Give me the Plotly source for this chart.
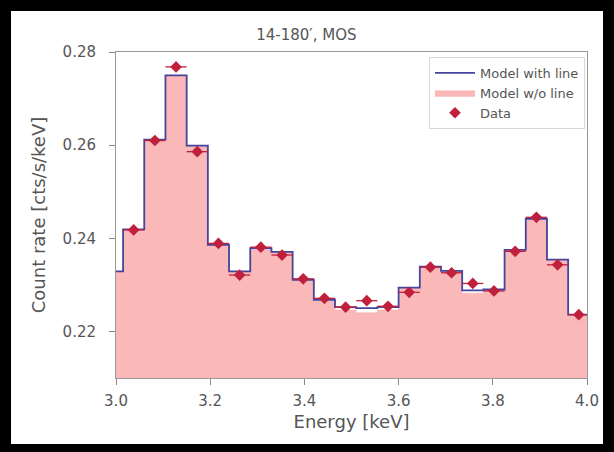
import plotly.graph_objects as go

# ---- data ----
bin_edges = [2.97, 3.015, 3.06, 3.105, 3.15, 3.195, 3.24, 3.285, 3.33, 3.375, 3.42, 3.465,
             3.51, 3.555, 3.60, 3.645, 3.69, 3.735, 3.78, 3.825, 3.87, 3.915, 3.96, 4.005]
model_with_line = [0.2329, 0.2419, 0.2612, 0.2750, 0.2599, 0.2386, 0.2329, 0.2379, 0.2371,
                   0.2311, 0.2268, 0.2252, 0.2250, 0.2252, 0.2294, 0.2339, 0.2330, 0.2288,
                   0.2290, 0.2375, 0.2442, 0.2354, 0.2236]
model_wo_line = [0.2329, 0.2419, 0.2612, 0.2750, 0.2599, 0.2386, 0.2329, 0.2379, 0.2371,
                 0.2311, 0.2266, 0.2246, 0.2240, 0.2246, 0.2294, 0.2339, 0.2330, 0.2282,
                 0.2290, 0.2375, 0.2442, 0.2354, 0.2236]
data_energy = [3.0375, 3.0825, 3.1275, 3.1725, 3.2175, 3.2625, 3.3075, 3.3525, 3.3975,
               3.4425, 3.4875, 3.5325, 3.5775, 3.6225, 3.6675, 3.7125, 3.7575, 3.8025,
               3.8475, 3.8925, 3.9375, 3.9825]
data_rate = [0.2418, 0.2610, 0.2768, 0.2586, 0.2389, 0.2321, 0.2381, 0.2364, 0.2313,
             0.2271, 0.2252, 0.2266, 0.2254, 0.2284, 0.2338, 0.2326, 0.2303, 0.2287,
             0.2372, 0.2445, 0.2343, 0.2236]
data_xerr = [0.0225] * len(data_energy)
data_yerr = [0.0005] * len(data_energy)
x_ticks = [3.0, 3.2, 3.4, 3.6, 3.8, 4.0]
x_tick_text = ["3.0", "3.2", "3.4", "3.6", "3.8", "4.0"]
y_ticks = [0.22, 0.24, 0.26, 0.28]
y_tick_text = ["0.22", "0.24", "0.26", "0.28"]

# step arrays (hv shape): last edge repeats last value
step_with = model_with_line + [model_with_line[-1]]
step_wo = model_wo_line + [model_wo_line[-1]]

FONT = "DejaVu Sans"
TXT = "#555555"
RED = "#c0203c"

fig = go.Figure()
fig.add_trace(go.Scatter(
    x=bin_edges, y=step_wo, mode="lines", line_shape="hv",
    line=dict(color="rgba(250,170,170,1)", width=0.5),
    fill="tozeroy", fillcolor="rgba(250,184,184,1)", name="Model w/o line",
    legendrank=2))
fig.add_trace(go.Scatter(
    x=bin_edges, y=step_with, mode="lines", line_shape="hv",
    line=dict(color="#45459e", width=1.8), name="Model with line", legendrank=1))
fig.add_trace(go.Scatter(
    x=data_energy, y=data_rate, mode="markers", name="Data", legendrank=3,
    marker=dict(symbol="diamond", size=9, color=RED),
    error_x=dict(type="data", array=data_xerr, color=RED, thickness=1.3, width=0),
    error_y=dict(type="data", array=data_yerr, color=RED, thickness=1.3, width=0)))

W, H = 614, 452
ml, mr, mt, mb = 116, 27, 52, 74
pw, ph = W - ml - mr, H - mt - mb

def px_x(p):
    return (p - ml) / pw

def px_y(p):
    return (H - mb - p) / ph

fig.update_layout(
    width=W, height=H,
    margin=dict(l=ml, r=mr, t=mt, b=mb, pad=0),
    paper_bgcolor="black", plot_bgcolor="white",
    font=dict(family=FONT, color=TXT, size=15),
    title=dict(text="14-180′, MOS", x=px_x(351), xanchor="center",
               y=1 - 35 / H, yanchor="middle", font=dict(size=15, color=TXT)),
    showlegend=True,
    legend=dict(x=px_x(585), y=px_y(57), xanchor="right", yanchor="top",
                bgcolor="white", bordercolor="#d8d8d8", borderwidth=1,
                font=dict(size=13, color=TXT), itemwidth=40,
                tracegroupgap=2),
    shapes=[dict(type="rect", xref="paper", yref="paper", layer="below",
                 x0=px_x(11), x1=px_x(603), y0=px_y(444), y1=px_y(11),
                 fillcolor="white", line=dict(width=0))],
)
fig.update_xaxes(range=[3.0, 4.0], tickvals=x_ticks, ticktext=x_tick_text,
                 ticks="outside", ticklen=6, tickcolor="#888", showgrid=False,
                 zeroline=False, showline=True, linecolor="#999", mirror=True,
                 ticklabelstandoff=3,
                 title=dict(text="Energy [keV]", standoff=6), tickfont=dict(size=15))
fig.update_yaxes(range=[0.21, 0.28], tickvals=y_ticks, ticktext=y_tick_text,
                 ticks="outside", ticklen=6, tickcolor="#888", showgrid=False,
                 zeroline=False, showline=True, linecolor="#999", mirror=True,
                 ticklabelstandoff=10,
                 title=dict(text="Count rate [cts/s/keV]", standoff=12), tickfont=dict(size=15))

fig.write_html("out.html")
